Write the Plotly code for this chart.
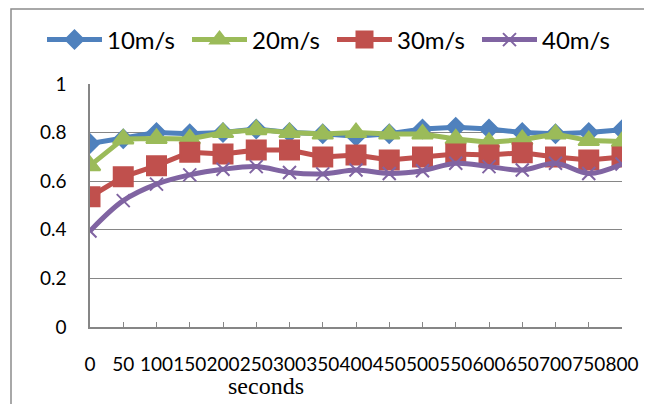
import plotly.graph_objects as go

seconds = [0, 50, 100, 150, 200, 250, 300, 350, 400, 450, 500, 550, 600, 650, 700, 750, 800]
tick_labels = [str(s) for s in seconds]
series_names = ["10m/s", "20m/s", "30m/s", "40m/s"]
v10 = [0.755, 0.775, 0.80, 0.795, 0.80, 0.815, 0.80, 0.795, 0.785, 0.795, 0.815, 0.822, 0.815, 0.80, 0.795, 0.80, 0.812]
v20 = [0.664, 0.774, 0.776, 0.774, 0.80, 0.812, 0.80, 0.794, 0.80, 0.794, 0.794, 0.774, 0.76, 0.771, 0.794, 0.767, 0.763]
v30 = [0.536, 0.618, 0.664, 0.719, 0.712, 0.728, 0.728, 0.70, 0.708, 0.687, 0.70, 0.712, 0.708, 0.717, 0.70, 0.687, 0.70]
v40 = [0.395, 0.52, 0.588, 0.626, 0.649, 0.66, 0.636, 0.63, 0.646, 0.632, 0.643, 0.674, 0.66, 0.646, 0.674, 0.632, 0.671]

colors = ["#4F81BD", "#9BBB59", "#C0504D", "#8064A2"]
symbols = ["diamond", "triangle-up", "square", "x-thin"]
sizes = [14, 18, 19, 13]
shapes_ = ["linear", "linear", "linear", "spline"]
values = [v10, v20, v30, v40]

fig = go.Figure()
for name, vals, c, sym, sz, shp in zip(series_names, values, colors, symbols, sizes, shapes_):
    fig.add_trace(go.Scatter(
        x=seconds, y=vals, name=name, mode="lines+markers",
        line=dict(color=c, width=5, shape=shp),
        marker=dict(symbol=sym, size=sz, color=c, line=dict(color=c, width=2)),
    ))

# page body has an 8px default margin, so the figure is sized to fit inside it
OFF = 8
W, H = 652 - OFF, 404 - OFF
L, T = 90 - OFF, 84 - OFF
R, B = 652 - 622, 404 - 327
pw, ph = W - L - R, H - T - B

def px_x(page_x):
    return (page_x - OFF - L) / pw

def px_y(page_y):
    return (H - B - (page_y - OFF)) / ph

axis_col = "#868686"
fig.update_layout(
    width=W, height=H,
    margin=dict(l=L, r=R, t=T, b=B, autoexpand=False),
    paper_bgcolor="white", plot_bgcolor="white",
    font=dict(family="Lato", color="black"),
    showlegend=True,
    legend=dict(orientation="h", x=px_x(42), xanchor="left", y=px_y(40), yanchor="middle",
                font=dict(family="Lato", size=24, color="black"),
                itemwidth=55, entrywidth=75, entrywidthmode="pixels",
                bgcolor="rgba(0,0,0,0)", tracegroupgap=0),
    xaxis=dict(range=[0, 800], tickvals=seconds, ticktext=tick_labels, showgrid=False,
               showline=True, linecolor=axis_col, linewidth=1.5, zeroline=False,
               ticks="inside", ticklen=5, tickcolor=axis_col, tickwidth=1, tickangle=0,
               automargin=False,
               tickfont=dict(family="Lato", size=19, color="black"), ticklabelstandoff=19),
    yaxis=dict(range=[0, 1], dtick=0.2, showgrid=True, gridcolor=axis_col, gridwidth=1,
               showline=True, linecolor=axis_col, linewidth=1.5, zeroline=False, ticks="",
               automargin=False,
               tickfont=dict(family="Lato", size=19, color="black"), ticklabelstandoff=18),
    annotations=[dict(text="seconds", xref="paper", yref="paper", x=px_x(266), y=px_y(386),
                      xanchor="center", yanchor="middle", showarrow=False,
                      font=dict(family="Liberation Serif", size=24, color="black"))],
    shapes=[dict(type="rect", xref="paper", yref="paper", x0=px_x(11), y0=px_y(430),
                 x1=px_x(680), y1=px_y(9), line=dict(color="#8c8c8c", width=1.5),
                 fillcolor="rgba(0,0,0,0)", layer="below")],
)
fig.write_html("out.html")
